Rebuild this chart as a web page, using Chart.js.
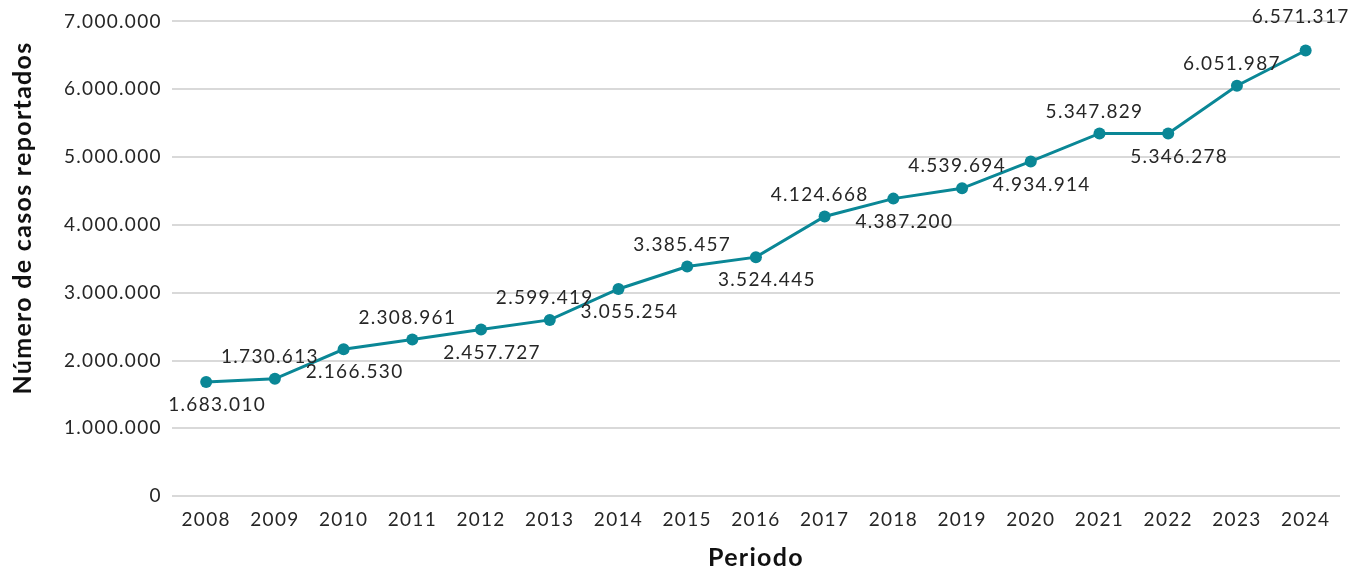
<!DOCTYPE html>
<html>
<head>
<meta charset="utf-8">
<script src="https://cdn.jsdelivr.net/npm/chart.js@4"></script>
<style>
  html, body { margin: 0; padding: 0; background: #fff; }
  #wrap { width: 1355px; height: 571px; }
</style>
</head>
<body>
<div id="wrap"><canvas id="myChart" width="1355" height="571"></canvas></div>
<script>
const years = ['2008', '2009', '2010', '2011', '2012', '2013', '2014', '2015', '2016',
               '2017', '2018', '2019', '2020', '2021', '2022', '2023', '2024'];
const casos = [1683010, 1730613, 2166530, 2308961, 2457727, 2599419, 3055254, 3385457, 3524445,
               4124668, 4387200, 4539694, 4934914, 5347829, 5346278, 6051987, 6571317];
// where each value label goes: 1 = above the point, -1 = below
const labelSide = [-1, 1, -1, 1, -1, 1, -1, 1, -1, 1, -1, 1, -1, 1, -1, 1, 1];
const yTitle = 'Número de casos reportados';

const fmt = v => v.toString().replace(/\B(?=(\d{3})+(?!\d))/g, '.');

// the reference font is wider than Lato, so open up the letters a bit
const spacing = {
    id: 'spacing',
    beforeUpdate(chart) { chart.ctx.letterSpacing = '1.3px'; },
    beforeDraw(chart) { chart.ctx.letterSpacing = '1.3px'; }
};

const valueLabels = {
    id: 'valueLabels',
    afterDatasetsDraw(chart) {
        const ctx = chart.ctx;
        const meta = chart.getDatasetMeta(0);
        const last = meta.data.length - 1;
        ctx.save();
        ctx.letterSpacing = '1.3px';
        ctx.font = '19px Lato';
        ctx.fillStyle = '#262626';
        ctx.textAlign = 'center';
        ctx.textBaseline = 'middle';
        meta.data.forEach((pt, i) => {
            const up = labelSide[i] > 0;
            // labels above lean left, labels below lean right; last one sits higher
            const dx = up ? -5 : 11;
            const dy = up ? -(i === last ? 34 : 22) : 23;
            ctx.fillText(fmt(casos[i]), pt.x + dx, pt.y + dy);
        });
        // y axis title sits a little above the middle of the plot, like the original
        ctx.font = 'bold 25px Lato';
        ctx.fillStyle = '#111';
        ctx.translate(23, 218);
        ctx.rotate(-Math.PI / 2);
        ctx.fillText(yTitle, 0, 0);
        ctx.restore();
    }
};

document.addEventListener("DOMContentLoaded", function () {
    const ctx = document.getElementById('myChart').getContext('2d');
    new Chart(ctx, {
        type: 'line',
        data: {
            labels: years,
            datasets: [{
                label: yTitle,
                data: casos,
                borderColor: '#0A8796',
                backgroundColor: '#0A8796',
                borderWidth: 3,
                pointRadius: 6,
                pointBackgroundColor: '#0A8796',
                pointBorderWidth: 0,
                tension: 0
            }]
        },
        options: {
            responsive: false,
            animation: false,
            layout: { padding: { top: 19, right: 15, bottom: 0, left: 54 } },
            plugins: {
                legend: { display: false },
                tooltip: { enabled: false }
            },
            scales: {
                x: {
                    offset: true,
                    grid: { display: false, drawTicks: false },
                    border: { display: false },
                    ticks: { color: '#262626', font: { family: 'Lato', size: 19 }, padding: 12 },
                    title: {
                        display: true, text: 'Periodo', color: '#111',
                        font: { family: 'Lato', size: 25, weight: 'bold' }, padding: { top: 0, bottom: -2 }
                    }
                },
                y: {
                    min: 0, max: 7000000,
                    grid: { color: '#d9d9d9', lineWidth: 2, drawTicks: false },
                    border: { display: false },
                    ticks: {
                        stepSize: 1000000, color: '#262626', padding: 10,
                        font: { family: 'Lato', size: 19 },
                        callback: v => fmt(v)
                    }
                }
            }
        },
        plugins: [spacing, valueLabels]
    });
});
</script>
</body>
</html>
